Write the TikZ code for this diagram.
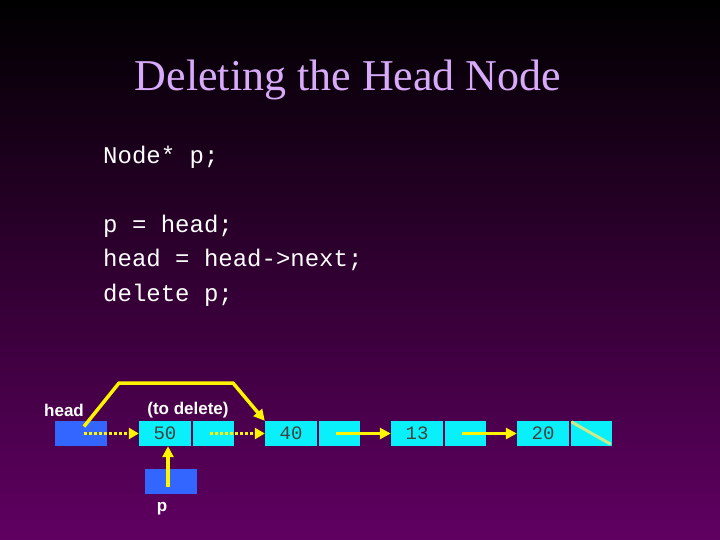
\documentclass[tikz,border=0pt]{standalone}
\usepackage{fontspec}
\setmainfont{Liberation Serif}
\newfontfamily\codefont{Liberation Mono}
\newfontfamily\labfont{Liberation Sans}
\usetikzlibrary{arrows.meta}
\definecolor{bgbot}{RGB}{96,0,98}
\definecolor{titlecol}{RGB}{215,170,250}
\definecolor{boxblue}{RGB}{51,102,255}
\definecolor{boxcyan}{RGB}{10,240,250}
\definecolor{ylw}{RGB}{255,245,0}
\definecolor{nullcol}{RGB}{200,235,140}
\tikzset{
  ptrbox/.style={fill=boxblue, draw=none, minimum width=52pt, minimum height=25pt, inner sep=0pt},
  databox/.style={fill=boxcyan, draw=none, minimum width=52pt, minimum height=25pt, inner sep=0pt, font=\codefont\fontsize{19}{19}\selectfont, text=black!75},
  nextbox/.style={fill=boxcyan, draw=none, minimum width=41pt, minimum height=25pt, inner sep=0pt},
  lab/.style={text=white, font=\labfont\bfseries\fontsize{17}{17}\selectfont, inner sep=0pt},
  code/.style={text=white, font=\codefont\fontsize{24}{24}\selectfont, anchor=west, inner sep=0pt},
  yarrow/.style={draw=ylw, line width=3.5pt, -{Triangle[length=11pt,width=11pt]}},
  darrow/.style={draw=ylw, line width=3.5pt, dash pattern=on 3pt off 2pt, -{Triangle[length=10pt,width=11pt]}}
}
\begin{document}
\begin{tikzpicture}[x=1pt,y=-1pt]
\useasboundingbox (0,0) rectangle (720,540);
\shade[top color=black, bottom color=bgbot] (0,0) rectangle (720,540);
\node[text=titlecol, font=\fontsize{44}{44}\selectfont, inner sep=0pt] (title) at (348,80) {Deleting the Head Node};
\node[code] (c1) at (103,157) {Node* p;};
\node[code] (c2) at (103,226) {p = head;};
\node[code] (c3) at (103,260) {head = head->next;};
\node[code] (c4) at (103,295) {delete p;};
% boxes
\node[ptrbox] (head) at (81,433.5) {};
\node[lab] (headlab) at (64,410) {head};
\node[ptrbox] (p) at (171,481) {};
\node[lab] (plab) at (162,509) {p};
\node[lab] (del) at (188,410) {(to delete)};
\node[databox] (d50) at (165,433.5) {50};
\node[nextbox] (n50) at (213,433.5) {};
\node[databox] (d40) at (291,433.5) {40};
\node[nextbox] (n40) at (339,433.5) {};
\node[databox] (d13) at (417,433.5) {13};
\node[nextbox] (n13) at (465,433.5) {};
\node[databox] (d20) at (543,433.5) {20};
\node[nextbox] (n20) at (591,433.5) {};
% arrows
\draw[darrow] (head.center) ++(3,0) -- (d50.west);
\draw[darrow] (n50.center) ++(-3,0) -- (d40.west);
\draw[yarrow] (n40.center) ++(-3,0) -- (d13.west);
\draw[yarrow] (n13.center) ++(-3,0) -- (d20.west);
\draw[yarrow] (p.center) ++(-3,6) -- (d50.south -| 168,0);
\coordinate (bend1) at (119,383);
\coordinate (bend2) at (233,383);
\draw[yarrow, line join=round] (head.center) ++(3,-7) -- (bend1) -- (bend2) -- (d40.north west);
\draw[nullcol, line width=3pt] (n20.north west) ++(1,1) -- ([shift={(-1,-2)}]n20.south east);
\end{tikzpicture}
\end{document}
